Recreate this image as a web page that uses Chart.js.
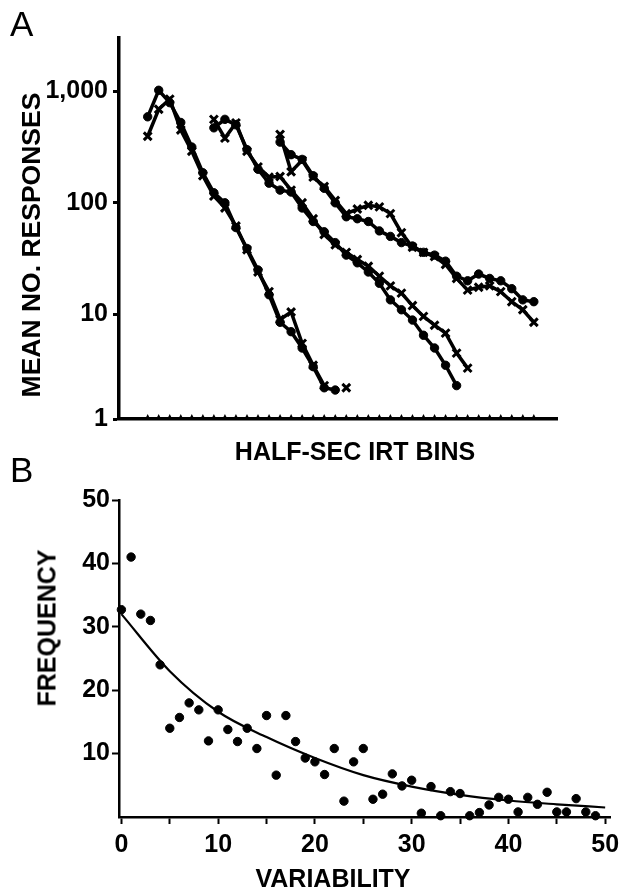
<!DOCTYPE html>
<html lang="en">
<head>
<meta charset="UTF-8" />
<title>IRT bins and variability</title>
<script src="https://cdn.jsdelivr.net/npm/chart.js"></script>
<style>
  body { margin: 0; background: #fff; font-family: "Liberation Sans", Arial, sans-serif; }
  #wrap { position: relative; width: 628px; height: 889px; }
  .panel { position: absolute; left: 0; width: 628px; }
  .letter { position: absolute; font-size: 35px; line-height: 1; color: #000; }
  .ttl { position: absolute; font-weight: bold; font-size: 25px; line-height: 1; white-space: nowrap; transform: translate(-50%, -50%); }
  .rot { transform: translate(-50%, -50%) rotate(-90deg); }
</style>
</head>
<body>
<div id="wrap">
  <div class="panel" style="top:0;height:440px"><canvas id="chartA" width="628" height="440"></canvas></div>
  <div class="panel" style="top:440px;height:449px"><canvas id="chartB" width="628" height="449"></canvas></div>
  <div class="letter" style="left:10px;top:6px">A</div>
  <div class="letter" style="left:10px;top:452px">B</div>
  <div class="ttl rot" style="left:31px;top:245px;font-size:26.5px">MEAN NO. RESPONSES</div>
  <div class="ttl" style="left:355px;top:451px">HALF-SEC IRT BINS</div>
  <div class="ttl rot" style="left:47px;top:628px">FREQUENCY</div>
  <div class="ttl" style="left:333px;top:878px">VARIABILITY</div>
</div>

<script>
  // ---- panel A: mean responses per half-second IRT bin (log scale) ----
  const irtBins = [];   // bin positions along the axis
  for (let i = 0; i <= 35; i++) irtBins.push(i);

  const g1Start = 0;
  const g1Dots  = [590, 1020, 790, 525, 316, 186, 123, 100, 60, 39, 25, 15, 8.5, 7, 5, 3.4, 2.2, 2.1];
  const g1Cross = [395, 690, 850, 450, 290, 175, 115, 90, 62, 38, 24, 16, 9, 10.5, 5.5, 3.5, 2.3, null, 2.2];

  const g2Start = 6;
  const g2Dots  = [470, 560, 500, 300, 200, 150, 130, 125, 90, 68, 55, 44, 34, 29, 24, 19, 13.5, 11, 8.9, 6.5, 5, 3.5, 2.3];
  const g2Cross = [560, 380, 520, 290, 210, 170, 172, 130, 100, 72, 52, 42, 36, 31, 27, 22, 18, 15.5, 12, 9.6, 8, 6.8, 4.5, 3.3];

  const g3Start = 12;
  const g3Dots  = [350, 270, 245, 175, 135, 100, 75, 72, 68, 56, 50, 44, 41, 36, 34, 30, 22, 20, 23, 21, 20, 17, 13.5, 13];
  const g3Cross = [410, 190, 240, 170, 140, 105, 80, 88, 95, 92, 80, 54, 40, 36, 33, 28, 21, 16.5, 17.5, 18, 16, 13, 11, 8.5];

  const aYTicks = [1.155, 10, 100, 1000];

  // ---- panel B: frequency vs variability ----
  const varX = [];
  for (let i = 0; i < 50; i++) varX.push(i);
  const freqY = [32.7, 41, 32, 31, 24, 14, 15.7, 18, 16.9, 12, 16.9, 13.8, 11.9, 14, 10.8, 16, 6.6, 16, 11.9, 9.3,
                 8.7, 6.7, 10.8, 2.5, 8.7, 10.8, 2.8, 3.6, 6.8, 4.9, 5.8, 0.6, 4.8, 0.2, 4, 3.7, 0.2, 0.7, 1.9, 3.1,
                 2.8, 0.8, 3.1, 2, 3.9, 0.8, 0.8, 2.9, 0.8, 0.2];
  const fitX = [0, 5, 10, 15, 20, 25, 30, 35, 40, 45, 50];
  const fitY = [32, 23, 16.6, 12.6, 9.3, 6.6, 4.8, 3.5, 2.6, 2.0, 1.5];
  const bXTicks = [0, 5, 10, 15, 20, 25, 30, 35, 40, 45, 50];
  const bYTicks = [10, 20, 30, 40, 50];

  Chart.defaults.font.family = "'Liberation Sans', Arial, sans-serif";
  Chart.defaults.font.weight = "bold";
  Chart.defaults.color = "#000";

  function toPoints(start, vals) {
    return vals.map((v, i) => ({ x: start + i, y: v }));
  }

  function series(start, vals, style) {
    return {
      data: toPoints(start, vals),
      borderColor: "#000",
      backgroundColor: "#000",
      borderWidth: 3.5,
      pointStyle: style,
      pointRadius: style === "circle" ? 4.2 : 5.5,
      pointBorderWidth: style === "circle" ? 1 : 3,
      spanGaps: false,
      clip: false
    };
  }

  // inward tick marks along the bottom axis of panel A
  const binTicks = {
    id: "binTicks",
    afterDraw(chart) {
      const c = chart.ctx, xs = chart.scales.x, b = chart.chartArea.bottom;
      c.save();
      c.fillStyle = "#000";
      irtBins.forEach(i => {
        const px = xs.getPixelForValue(i);
        c.beginPath();
        c.moveTo(px - 2.5, b);
        c.lineTo(px, b - 5);
        c.lineTo(px + 2.5, b);
        c.closePath();
        c.fill();
      });
      c.restore();
    }
  };

  new Chart(document.getElementById("chartA"), {
    type: "line",
    data: {
      datasets: [
        series(g1Start, g1Dots, "circle"),
        series(g1Start, g1Cross, "crossRot"),
        series(g2Start, g2Dots, "circle"),
        series(g2Start, g2Cross, "crossRot"),
        series(g3Start, g3Dots, "circle"),
        series(g3Start, g3Cross, "crossRot")
      ]
    },
    options: {
      responsive: false,
      animation: false,
      layout: { padding: { top: 38, right: 71, bottom: 0, left: 0 } },
      plugins: { legend: { display: false }, tooltip: { enabled: false } },
      scales: {
        x: {
          type: "linear",
          min: -2.6,
          max: 37.1,
          ticks: { display: false },
          grid: { display: false, drawTicks: false },
          border: { color: "#000", width: 3.5 },
          afterFit(s) { s.height = 21; }
        },
        y: {
          type: "logarithmic",
          min: 1.155,
          max: 3000,
          afterBuildTicks(s) { s.ticks = aYTicks.map(v => ({ value: v })); },
          ticks: {
            font: { size: 25, weight: "bold" },
            padding: 5,
            callback: v => (v < 2 ? "1" : v.toLocaleString("en-US"))
          },
          grid: { drawOnChartArea: false, tickLength: 6, tickWidth: 3, color: "#000" },
          border: { color: "#000", width: 3.5 },
          afterFit(s) { s.width = 119; }
        }
      }
    },
    plugins: [binTicks]
  });

  new Chart(document.getElementById("chartB"), {
    type: "scatter",
    data: {
      datasets: [
        {
          data: varX.map((x, i) => ({ x, y: freqY[i] })),
          backgroundColor: "#000",
          borderColor: "#000",
          pointRadius: 4.2,
          clip: false
        },
        {
          type: "line",
          data: fitX.map((x, i) => ({ x, y: fitY[i] })),
          borderColor: "#000",
          borderWidth: 2.2,
          pointRadius: 0,
          cubicInterpolationMode: "monotone",
          fill: false
        }
      ]
    },
    options: {
      responsive: false,
      animation: false,
      layout: { padding: { top: 60, right: 18, bottom: 0, left: 0 } },
      plugins: { legend: { display: false }, tooltip: { enabled: false } },
      scales: {
        x: {
          type: "linear",
          min: -0.25,
          max: 50.5,
          afterBuildTicks(s) { s.ticks = bXTicks.map(v => ({ value: v })); },
          ticks: {
            font: { size: 25, weight: "bold" },
            padding: 6,
            maxRotation: 0,
            autoSkip: false,
            callback: v => (v % 10 === 0 ? String(v) : "")
          },
          grid: { drawOnChartArea: false, tickLength: 7, tickWidth: 2, color: "#000" },
          border: { color: "#000", width: 2.5 },
          afterFit(s) { s.height = 72; }
        },
        y: {
          min: 0,
          max: 50,
          afterBuildTicks(s) { s.ticks = bYTicks.map(v => ({ value: v })); },
          ticks: { font: { size: 25, weight: "bold" }, padding: 2 },
          grid: { drawOnChartArea: false, tickLength: 7, tickWidth: 2, color: "#000" },
          border: { color: "#000", width: 2.5 },
          afterFit(s) { s.width = 119; }
        }
      }
    }
  });
</script>
</body>
</html>
